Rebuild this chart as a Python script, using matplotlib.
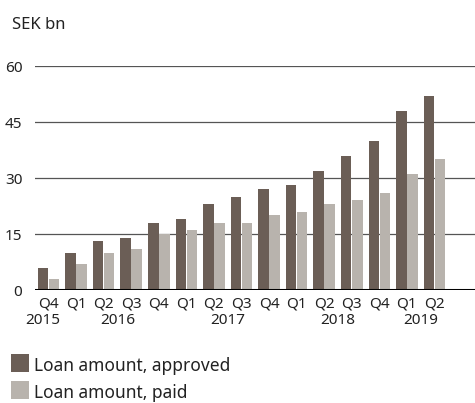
import matplotlib
matplotlib.use("Agg")
import matplotlib.pyplot as plt
from matplotlib.patches import Rectangle
import numpy as np

quarters = ["Q4", "Q1", "Q2", "Q3", "Q4", "Q1", "Q2", "Q3", "Q4",
            "Q1", "Q2", "Q3", "Q4", "Q1", "Q2"]
years = ["2015", "2016", "2016", "2016", "2016", "2017", "2017", "2017", "2017",
         "2018", "2018", "2018", "2018", "2019", "2019"]
approved = [6, 10, 13, 14, 18, 19, 23, 25, 27, 28, 32, 36, 40, 48, 52]
paid = [3, 7, 10, 11, 15, 16, 18, 18, 20, 21, 23, 24, 26, 31, 35]
yticks = [0, 15, 30, 45, 60]
series_names = ["Loan amount, approved", "Loan amount, paid"]

C_DARK = "#6b5e56"
C_LIGHT = "#b8b3ad"
TXT = "#222222"
FS = 11

plt.rcParams["font.family"] = ["Noto Sans", "DejaVu Sans"]

W, H = 475, 403
fig = plt.figure(figsize=(W / 100, H / 100), dpi=100)
ax = fig.add_axes([35 / W, (H - 290) / H, 440 / W, 224 / H])

x = np.arange(len(quarters))
bw = 0.38
ax.bar(x - 0.2, approved, width=bw, color=C_DARK, zorder=3)
ax.bar(x + 0.2, paid, width=bw, color=C_LIGHT, zorder=3)

ax.set_ylim(0, 60)
ax.set_xlim(-0.49, 15.47)
ax.set_yticks(yticks)
ax.set_yticklabels([str(v) for v in yticks], fontsize=FS, color=TXT)
for v in yticks[1:]:
    ax.axhline(v, color="#555555", lw=0.9, zorder=1)
ax.axhline(0, color="black", lw=2.2, zorder=4)
for s in ax.spines.values():
    s.set_visible(False)
ax.tick_params(axis="y", length=0, pad=9)
ax.tick_params(axis="x", length=0, pad=5)
ax.set_xticks(x)
ax.set_xticklabels(quarters, fontsize=FS, color=TXT)

# year labels centred under their quarters
uniq = []
for y in years:
    if y not in uniq:
        uniq.append(y)
for y in uniq:
    idx = [i for i, yy in enumerate(years) if yy == y]
    xc = np.mean(idx)
    if len(idx) == 1:
        xc -= 0.2
    ax.text(xc, -31 / 224, y, transform=ax.get_xaxis_transform(), ha="center",
            va="center", fontsize=FS, color=TXT)

fig.text(12 / W, 1 - 25 / H, "SEK bn", fontsize=12, color=TXT, va="center", ha="left")

# legend
for k, (name, col) in enumerate(zip(series_names, [C_DARK, C_LIGHT])):
    top = 354 + k * 27
    fig.add_artist(Rectangle((11 / W, 1 - (top + 18) / H), 18 / W, 18 / H,
                             transform=fig.transFigure, color=col, lw=0))
    fig.text(34 / W, 1 - (top + 12) / H, name, fontsize=12.5, color=TXT,
             va="center", ha="left")

fig.savefig("out.png", dpi=100)
